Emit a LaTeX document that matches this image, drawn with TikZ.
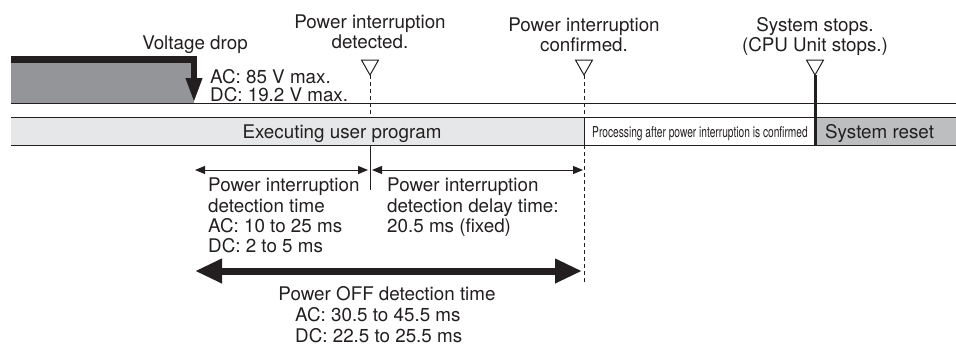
\documentclass[tikz,border=0pt]{standalone}
\usepackage{fontspec}
\setmainfont{TeX Gyre Heros}
\usepackage{graphicx}
\usetikzlibrary{arrows.meta}
\definecolor{dgray}{HTML}{939598}
\definecolor{lgray}{HTML}{E6E7E8}
\definecolor{mgray}{HTML}{BCBEC0}
\definecolor{ink}{HTML}{231F20}
\begin{document}
\begin{tikzpicture}[x=1pt,y=-1pt,
  txt/.style={font=\fontsize{18.8}{20}\selectfont, inner sep=0pt, text=ink},
  thinline/.style={draw=ink, line width=1pt},
  dashline/.style={draw=ink, line width=1pt, dash pattern=on 4pt off 3pt},
  marker/.style={draw=ink, line width=1pt, fill=white, line join=miter},
  smallarrow/.style={draw=ink, line width=1pt, {Triangle[length=10pt,width=8pt]}-{Triangle[length=10pt,width=8pt]}},
  bigarrow/.style={draw=ink, line width=7pt, {Triangle[length=27pt,width=23pt]}-{Triangle[length=27pt,width=23pt]}}
]
\useasboundingbox (0,0) rectangle (956,349);

% ---- voltage level region
\fill[dgray] (11,63) rectangle (194,103);
\coordinate (vs) at (11,59.5);
\coordinate (vc) at (194,59.5);
\coordinate (ve) at (194,103);
\draw[ink, line width=6.5pt, line join=miter, -{Triangle[length=25pt,width=15pt]}] (vs) -- (vc) -- (ve);

% ---- horizontal line
\coordinate (hl) at (11,103);
\coordinate (hr) at (956,103);
\draw[thinline] (hl) -- (hr);

% ---- state bar
\fill[lgray] (11,117) rectangle (584,145);
\fill[white] (584,117) rectangle (815,145);
\fill[mgray] (815,117) rectangle (956,145);
\coordinate (btl) at (11,117);
\coordinate (btr) at (956,117);
\coordinate (bbl) at (11,145);
\coordinate (bbr) at (956,145);
\draw[thinline] (btl) -- (btr);
\draw[thinline] (bbl) -- (bbr);

% ---- event markers
\coordinate (t1) at (370,75);
\coordinate (t2) at (584,75);
\coordinate (t3) at (815,75);
\coordinate (t1b) at (370,117);
\coordinate (t1c) at (370,145);
\coordinate (t1d) at (370,190);
\coordinate (t2b) at (584,117);
\coordinate (t2c) at (584,145);
\coordinate (t2d) at (584,282);
\coordinate (t3b) at (815,145);

\draw[dashline] (t1) -- (t1b);
\draw[thinline] (t1c) -- (t1d);
\draw[dashline] (t2) -- (t2b);
\draw[thinline] (t2b) -- (t2c);
\draw[dashline] (t2c) -- (t2d);
\draw[ink, line width=3pt] (t3) -- (t3b);

\draw[marker] (t1) -- ++(-8.5,-15) -- ++(17,0) -- cycle;
\draw[marker] (t2) -- ++(-8.5,-15) -- ++(17,0) -- cycle;
\draw[marker] (t3) -- ++(-8.5,-15) -- ++(17,0) -- cycle;

% ---- time arrows
\coordinate (a1l) at (195,170);
\coordinate (a1r) at (368,170);
\coordinate (a2l) at (372,170);
\coordinate (a2r) at (583,170);
\draw[smallarrow] (a1l) -- (a1r);
\draw[smallarrow] (a2l) -- (a2r);
\coordinate (bl) at (195,271);
\coordinate (br) at (582,271);
\draw[bigarrow] (bl) -- (br);

% ---- texts top
\node[txt, anchor=base] (vdrop) at (195,49) {Voltage drop};
\node[txt, anchor=base west] (acv) at (210,83) {AC: 85 V max.};
\node[txt, anchor=base west] (dcv) at (210,101) {DC: 19.2 V max.};

\node[txt, anchor=base] (pid1) at (370,28) {Power interruption};
\node[txt, anchor=base] (pid2) at (370,48) {detected.};
\node[txt, anchor=base] (pic1) at (584,31) {Power interruption};
\node[txt, anchor=base] (pic2) at (584,51) {confirmed.};
\node[txt, anchor=base] (ss1) at (815,31) {System stops.};
\node[txt, anchor=base] (ss2) at (815,51) {(CPU Unit stops.)};

% ---- bar texts
\node[txt, anchor=base] (exec) at (342,138) {Executing user program};
\node[inner sep=0pt, text=ink, anchor=base] (proc) at (700,137)
  {\fontsize{15}{15}\selectfont\scalebox{0.68}[1]{Processing after power interruption is confirmed}};
\node[txt, anchor=base west] (reset) at (825,138) {System reset};

% ---- lower texts
\node[txt, anchor=base west] (pd1) at (208,191) {Power interruption};
\node[txt, anchor=base west] (pd2) at (208,212) {detection time};
\node[txt, anchor=base west] (pd3) at (208,232) {AC: 10 to 25 ms};
\node[txt, anchor=base west] (pd4) at (208,252) {DC: 2 to 5 ms};

\node[txt, anchor=base west] (dd1) at (387,191) {Power interruption};
\node[txt, anchor=base west] (dd2) at (387,212) {detection delay time:};
\node[txt, anchor=base west] (dd3) at (387,232) {20.5 ms (fixed)};

\node[txt, anchor=base] (po1) at (387,300) {Power OFF detection time};
\node[txt, anchor=base west] (po2) at (295,321) {AC: 30.5 to 45.5 ms};
\node[txt, anchor=base west] (po3) at (295,342) {DC: 22.5 to 25.5 ms};
\end{tikzpicture}
\end{document}
